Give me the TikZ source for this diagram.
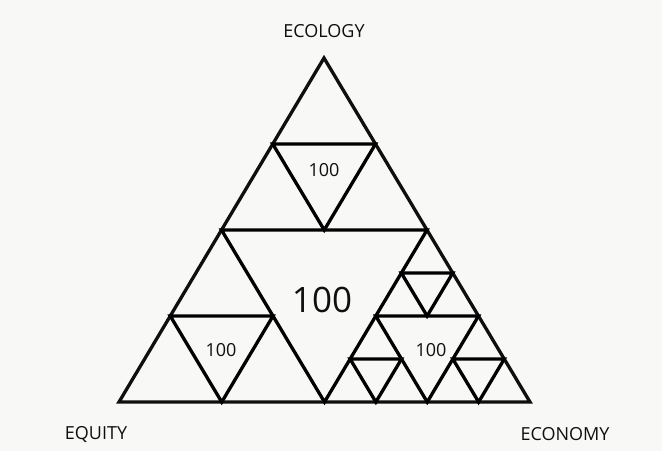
\documentclass[tikz,border=0pt]{standalone}
\usepackage{fontspec}
\setmainfont{Open Sans}
\usepackage{xcolor}
\usetikzlibrary{calc}
\definecolor{paper}{RGB}{248,248,246}
\definecolor{ink}{RGB}{15,15,15}
\newcommand{\midtri}[3]{\draw ($(#1)!0.5!(#2)$) -- ($(#2)!0.5!(#3)$) -- ($(#3)!0.5!(#1)$) -- cycle;}

\begin{document}
\begin{tikzpicture}[x=1pt,y=-1pt,line width=3.3pt,line join=miter,
  corner/.style={text=ink,font=\fontsize{18}{20}\selectfont},
  score/.style={text=ink,font=\fontsize{18}{20}\selectfont},
  bigscore/.style={text=ink,font=\fontsize{35}{38}\selectfont}]
\fill[paper] (0,0) rectangle (662,451);
\useasboundingbox (0,0) rectangle (662,451);
%outer triangle
\coordinate (A) at (324,58);
\coordinate (B) at (119,402);
\coordinate (C) at (530,402);
\coordinate (ab) at ($(A)!0.5!(B)$);
\coordinate (bc) at ($(B)!0.5!(C)$);
\coordinate (ca) at ($(C)!0.5!(A)$);
\draw[ink] (A) -- (B) -- (C) -- cycle;

%first level
\midtri{A}{B}{C}
\midtri{A}{ab}{ca}
\midtri{ab}{B}{bc}
\midtri{ca}{bc}{C}

%economy corner, one more level
\coordinate (r1) at ($(ca)!0.5!(bc)$);
\coordinate (r2) at ($(bc)!0.5!(C)$);
\coordinate (r3) at ($(C)!0.5!(ca)$);
\midtri{ca}{r1}{r3}
\midtri{r1}{bc}{r2}
\midtri{r3}{r2}{C}

\node[corner] (ecology) at (324,31) {ECOLOGY};
\node[corner] (equity) at (96,434) {EQUITY};
\node[corner] (economy) at (565,434) {ECONOMY};

\node[bigscore] (centre) at (322,300) {100};
\node[score] (top) at (324,170) {100};
\node[score] (left) at (221,350) {100};
\node[score] (right) at (431,350) {100};
\end{tikzpicture}
\end{document}
